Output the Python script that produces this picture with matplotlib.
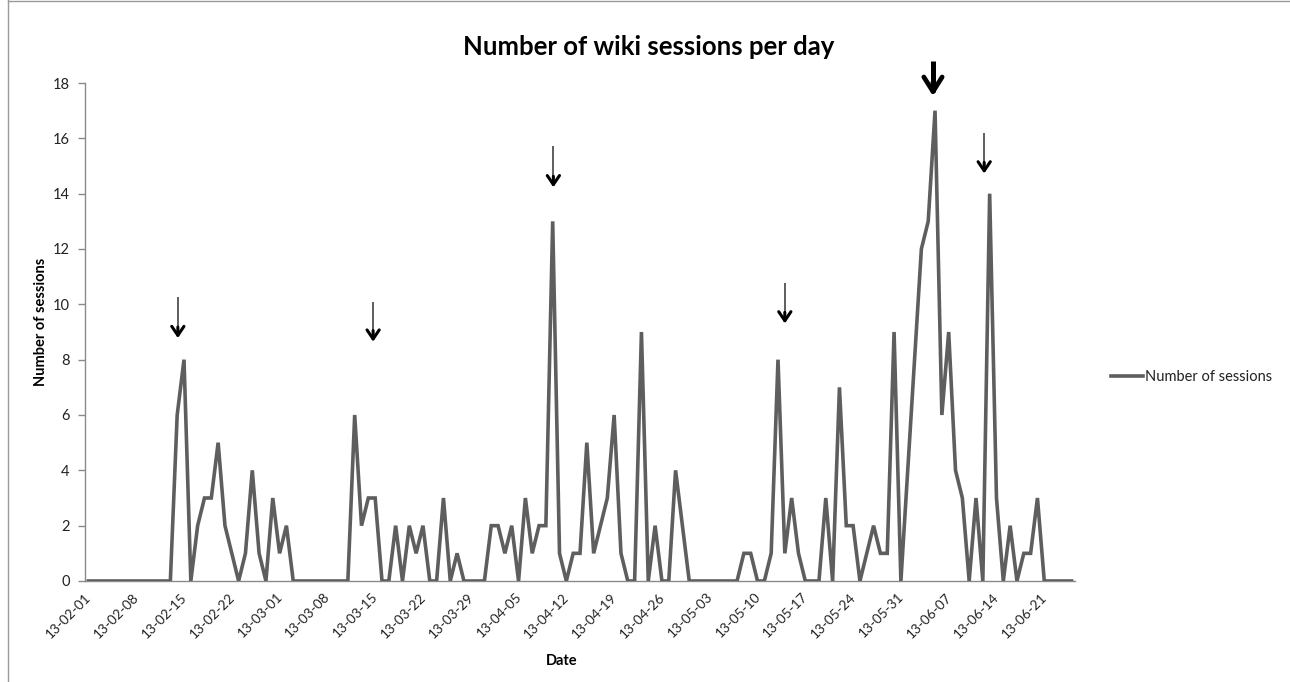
import matplotlib
matplotlib.use("Agg")
import matplotlib.pyplot as plt
import matplotlib.transforms as mtransforms
import numpy as np
import pandas as pd
from matplotlib.lines import Line2D

# ---------------- data ----------------
start_date = "2013-02-01"
sessions = [
    0, 0, 0, 0, 0, 0, 0, 0, 0, 0, 0, 0, 0,      # Feb 01 - Feb 13
    6, 8, 0, 2, 3, 3, 5, 2, 1, 0, 1, 4, 1, 0,   # Feb 14 - Feb 27
    3, 1, 2,                                    # Feb 28 - Mar 02
    0, 0, 0, 0, 0, 0, 0, 0, 0,                  # Mar 03 - Mar 11
    6, 2, 3, 3, 0, 0, 2, 0, 2, 1, 2, 0, 0, 3, 0, 1,  # Mar 12 - Mar 27
    0, 0, 0, 0,                                 # Mar 28 - Mar 31
    2, 2, 1, 2, 0, 3, 1, 2, 2, 13, 1, 0, 1, 1,  # Apr 01 - Apr 14
    5, 1, 2, 3, 6, 1, 0, 0, 9, 0, 2, 0, 0, 4, 2,  # Apr 15 - Apr 29
    0, 0, 0, 0, 0, 0, 0, 0,                     # Apr 30 - May 07
    1, 1, 0, 0, 1, 8, 1, 3, 1, 0, 0, 0, 3, 0,   # May 08 - May 21
    7, 2, 2, 0, 1, 2, 1, 1, 9, 0,               # May 22 - May 31
    4, 8, 12, 13, 17, 6, 9, 4, 3, 0, 3, 0, 14,  # Jun 01 - Jun 13
    3, 0, 2, 0, 1, 1, 3,                        # Jun 14 - Jun 20
    0, 0, 0, 0, 0,                              # Jun 21 - Jun 25
]
dates = pd.date_range(start_date, periods=len(sessions), freq="D")
tick_step_days = 7
y_ticks = [0, 2, 4, 6, 8, 10, 12, 14, 16, 18]

title = "Number of wiki sessions per day"
x_label = "Date"
y_label = "Number of sessions"
series_label = "Number of sessions"

# annotation arrows (day index, shaft top, tip value, bold?)
arrow_day = [13.1, 41.7, 68.1, 102.0, 123.7, 131.2]
arrow_top = [10.27, 10.10, 15.72, 10.78, 18.80, 16.20]
arrow_tip = [8.78, 8.65, 14.23, 9.31, 17.53, 14.73]
arrow_bold = [False, False, False, False, True, False]

# ---------------- figure ----------------
W, H = 1290, 682
fig = plt.figure(figsize=(W / 100, H / 100), dpi=100)
plt.rcParams['font.family'] = ['Lato', 'DejaVu Sans']

ax = fig.add_axes([85 / W, 1 - 581 / H, (1075 - 85) / W, (581 - 83) / H])

x = np.arange(len(sessions))
line_color = "#5e5e5e"
ax.plot(x, sessions, color=line_color, lw=2.6, solid_joinstyle="miter",
        label=series_label, zorder=3)

ax.set_xlim(-0.5, len(sessions) - 0.5)
ax.set_ylim(0, 18)

axis_gray = "#8a8a8a"
for s in ["top", "right"]:
    ax.spines[s].set_visible(False)
ax.spines["left"].set_color(axis_gray)
ax.spines["bottom"].set_color(axis_gray)
ax.spines["left"].set_linewidth(1.0)
ax.spines["bottom"].set_linewidth(1.0)

ax.set_yticks(y_ticks)
ax.set_yticklabels([str(v) for v in y_ticks], fontsize=10.5)
ax.tick_params(axis="y", length=5, width=1.0, color=axis_gray, pad=6,
               labelcolor="#222222")

tick_pos = x[::tick_step_days]
ax.set_xticks(tick_pos)
ax.set_xticklabels([d.strftime("%y-%m-%d") for d in dates[::tick_step_days]],
                   rotation=45, ha="right", va="top", fontsize=9.8,
                   rotation_mode="default")
ax.tick_params(axis="x", length=0, pad=7, labelcolor="#222222")
offset = mtransforms.ScaledTranslation(5 / 100, 0, fig.dpi_scale_trans)
for lab in ax.get_xticklabels():
    lab.set_transform(lab.get_transform() + offset)

# arrows
for xd, top, tip, bold in zip(arrow_day, arrow_top, arrow_tip, arrow_bold):
    if bold:
        ax.plot([xd, xd], [top, tip + 0.15], color="black", lw=3.6,
                solid_capstyle="butt", clip_on=False, zorder=5)
        ax.annotate("", xy=(xd, tip), xytext=(xd, tip + 0.5),
                    arrowprops=dict(arrowstyle="->,head_length=1.05,head_width=0.66",
                                    lw=3.4, color="black", shrinkA=0, shrinkB=0),
                    annotation_clip=False, zorder=5)
    else:
        ax.plot([xd, xd], [top, tip + 0.1], color="#333333", lw=1.1,
                solid_capstyle="butt", clip_on=False, zorder=5)
        ax.annotate("", xy=(xd, tip), xytext=(xd, tip + 0.4),
                    arrowprops=dict(arrowstyle="->,head_length=0.65,head_width=0.44",
                                    lw=2.2, color="black", shrinkA=0, shrinkB=0),
                    annotation_clip=False, zorder=5)

# titles / labels
fig.text(649 / W, 1 - 47 / H, title, ha="center", va="center",
         fontsize=18.5, fontweight="bold")
fig.text(562 / W, 1 - 661 / H, x_label, ha="center", va="center",
         fontsize=10.5, fontweight="bold")
fig.text(41 / W, 1 - 322 / H, y_label, ha="center", va="center",
         rotation=90, fontsize=10.5, fontweight="bold")

# legend
leg = ax.legend(loc="center left", bbox_to_anchor=(1111 / W, 1 - 377 / H),
                bbox_transform=fig.transFigure, frameon=False, fontsize=10.5,
                handlelength=2.2, handletextpad=0.15, borderaxespad=0,
                borderpad=0)
for t in leg.get_texts():
    t.set_color("#222222")

# outer frame lines
fig.add_artist(Line2D([7.5 / W, 7.5 / W], [0, 1], transform=fig.transFigure,
                      color="#9a9a9a", lw=1.0))
fig.add_artist(Line2D([7.5 / W, 1], [1 - 0.5 / H, 1 - 0.5 / H],
                      transform=fig.transFigure, color="#9a9a9a", lw=1.0))

fig.savefig("out.png", dpi=100)
